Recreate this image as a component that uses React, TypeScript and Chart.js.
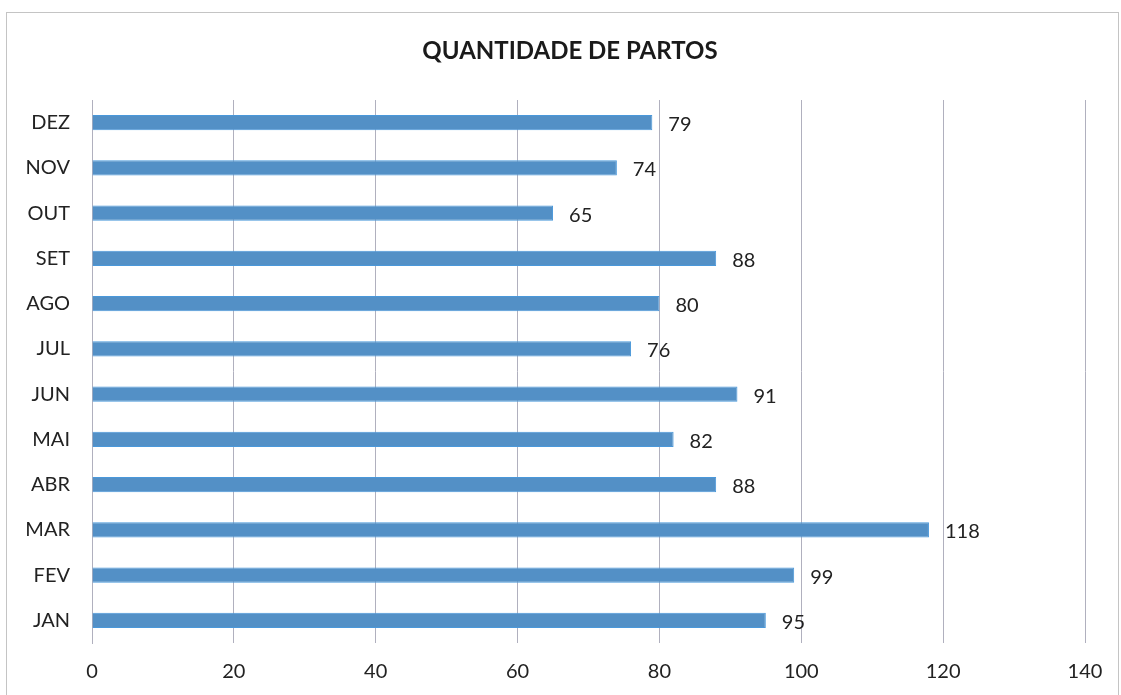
import React, { useEffect, useRef } from "react";
import { Chart, registerables } from "chart.js";

Chart.register(...registerables);

const months = ["JAN", "FEV", "MAR", "ABR", "MAI", "JUN", "JUL", "AGO", "SET", "OUT", "NOV", "DEZ"];
const partos = [95, 99, 118, 88, 82, 91, 76, 80, 88, 65, 74, 79];
const xTicks = [0, 20, 40, 60, 80, 100, 120, 140];
const chartTitle = "QUANTIDADE DE PARTOS";

const FONT = "Lato, 'Open Sans', sans-serif";

const framePlugin = {
  id: "frame",
  beforeDraw(chart: any) {
    const ctx = chart.ctx;
    ctx.save();
    ctx.fillStyle = "#ffffff";
    ctx.fillRect(0, 0, chart.width, chart.height);
    ctx.strokeStyle = "#c4c4c4";
    ctx.lineWidth = 1;
    ctx.strokeRect(6.5, 12.5, chart.width - 9, chart.height);
    ctx.font = `bold 24px ${FONT}`;
    ctx.fillStyle = "#1a1a1a";
    ctx.textAlign = "center";
    ctx.textBaseline = "middle";
    ctx.fillText(chartTitle, 570, 51);
    ctx.restore();
  },
};

const valueLabelPlugin = {
  id: "valueLabels",
  afterDatasetsDraw(chart: any) {
    const ctx = chart.ctx;
    ctx.save();
    ctx.font = `20px ${FONT}`;
    ctx.fillStyle = "#222222";
    ctx.textAlign = "left";
    ctx.textBaseline = "middle";
    chart.data.datasets.forEach((ds: any, di: number) => {
      const meta = chart.getDatasetMeta(di);
      meta.data.forEach((bar: any, i: number) => {
        ctx.fillText(String(ds.data[i]), bar.x + 16, bar.y + 2);
      });
    });
    ctx.restore();
  },
};

export default function App() {
  const ref = useRef<HTMLCanvasElement>(null);
  useEffect(() => {
    if (!ref.current) return;
    const chart = new Chart(ref.current, {
      type: "bar",
      data: {
        labels: months,
        datasets: [
          {
            data: partos,
            backgroundColor: "#5390c6",
            borderColor: "#4a98da",
            borderWidth: 1,
            barPercentage: 0.34,
            categoryPercentage: 1,
          },
        ],
      },
      options: {
        indexAxis: "y",
        responsive: false,
        animation: false,
        layout: { padding: { left: 0, right: 36, top: 100, bottom: 0 } },
        plugins: {
          legend: { display: false },
          tooltip: { enabled: false },
          title: { display: false },
        },
        scales: {
          x: {
            min: 0,
            max: 140,
            afterBuildTicks: (scale: any) => {
              scale.ticks = xTicks.map((v) => ({ value: v }));
            },
            afterFit: (scale: any) => {
              scale.height = 52;
            },
            grid: { color: "#b0b0be", lineWidth: 1, drawTicks: false },
            border: { display: false },
            ticks: {
              padding: 17,
              color: "#222222",
              font: { family: FONT, size: 20 },
            },
          },
          y: {
            reverse: true,
            afterFit: (scale: any) => {
              scale.width = 92;
            },
            grid: { display: false, drawTicks: false },
            border: { display: true, color: "#b0b0be", width: 1 },
            ticks: {
              padding: 22,
              color: "#222222",
              font: { family: FONT, size: 20 },
            },
          },
        },
      },
      plugins: [framePlugin, valueLabelPlugin],
    } as any);
    return () => chart.destroy();
  }, []);
  return (
    <div style={{ position: "fixed", left: 0, top: 0, width: 1121, height: 695 }}>
      <canvas ref={ref} width={1121} height={695} />
    </div>
  );
}
